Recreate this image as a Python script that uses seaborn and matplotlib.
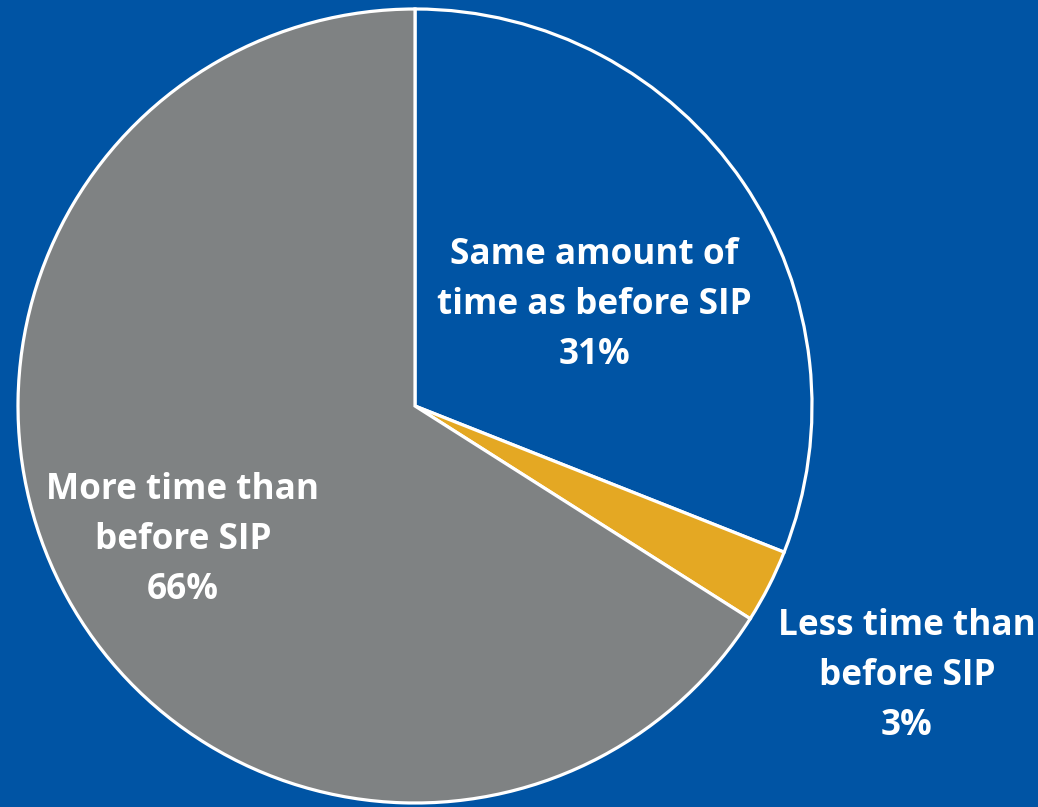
import matplotlib
matplotlib.use("Agg")
import matplotlib.pyplot as plt
import seaborn as sns

# data
categories = ["Same amount of\ntime as before SIP", "Less time than\nbefore SIP", "More time than\nbefore SIP"]
shares = [31, 3, 66]
colors = ["#0054A4", "#E4A823", "#7F8283"]
bg = "#0054A4"

sns.set_theme(style="white")
plt.rcParams['font.family'] = ['Open Sans', 'DejaVu Sans']

fig = plt.figure(figsize=(10.38, 8.07), dpi=100, facecolor=bg)
ax = fig.add_axes([0, 0, 1, 1])
ax.set_facecolor(bg)

cx, cy, r = 415, 807 - 406, 397
wedges, _ = ax.pie(shares, colors=colors, startangle=90, counterclock=False,
                   center=(cx, cy), radius=r, frame=True,
                   wedgeprops=dict(edgecolor="white", linewidth=2.3))

ax.set_xlim(0, 1038)
ax.set_ylim(0, 807)
ax.set_aspect("equal")
ax.axis("off")

# label positions in pixel coords (x, y from top)
label_pos = [(594, 305), (907, 676), (183, 540)]
for cat, val, (lx, ly) in zip(categories, shares, label_pos):
    ax.text(lx, 807 - ly, f"{cat}\n{val}%", ha="center", va="center",
            color="white", fontsize=25.3, fontweight="bold", linespacing=1.52)

fig.savefig("out.png", dpi=100, facecolor=bg)
